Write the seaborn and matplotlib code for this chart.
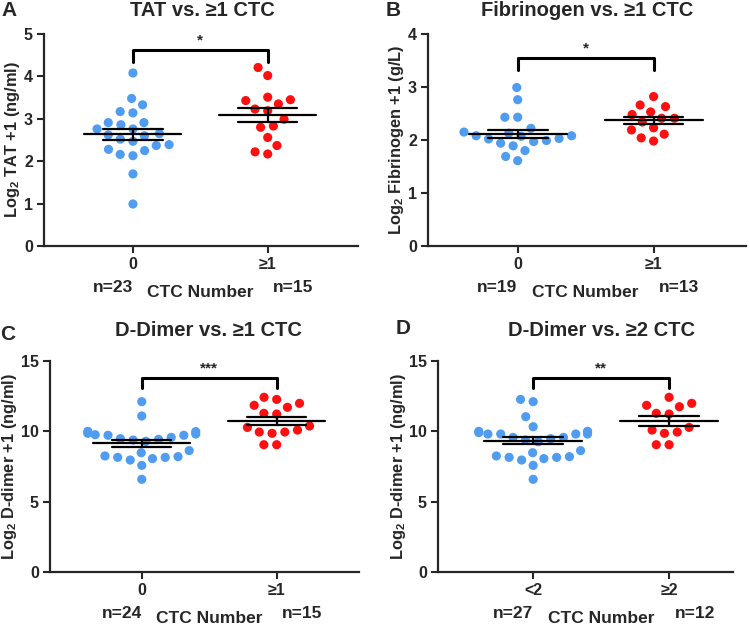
import numpy as np
import pandas as pd
import matplotlib
matplotlib.use("Agg")
import matplotlib.pyplot as plt
import seaborn as sns

# Values (log2 scale)
tat_0 = [4.08, 3.48, 3.33, 3.17, 3.14, 2.91, 2.91, 2.86, 2.76, 2.76, 2.62, 2.60,
         2.65, 2.52, 2.47, 2.37, 2.39, 2.25, 2.28, 2.13, 2.16, 1.70, 0.99]
tat_1 = [4.21, 4.02, 3.51, 3.43, 3.35, 3.45, 3.23, 3.19, 2.99, 2.80, 2.83, 2.56,
         2.37, 2.17, 2.22]
fib_0 = [2.99, 2.76, 2.43, 2.43, 2.22, 2.08, 2.15, 2.13, 2.08, 2.07, 2.03, 1.99,
         2.02, 1.97, 1.94, 1.89, 1.80, 1.69, 1.61]
fib_1 = [2.82, 2.63, 2.66, 2.48, 2.53, 2.41, 2.41, 2.34, 2.23, 2.19, 2.11, 2.04, 1.98]
dd_0 = [12.11, 11.09, 9.98, 10.00, 9.81, 9.76, 9.57, 9.48, 9.72, 9.72, 9.86, 9.29,
        9.38, 9.43, 8.48, 8.63, 8.20, 8.15, 7.96, 8.06, 8.15, 8.25, 7.58, 6.59]
dd_1 = [12.42, 12.27, 11.99, 11.71, 11.85, 11.23, 11.28, 10.38, 10.28, 10.09,
        9.86, 9.95, 9.95, 9.05, 9.05]
dd2_0 = [12.27, 12.11, 11.04, 10.33, 10.00, 9.95, 10.00, 9.81, 9.81, 9.91, 9.81,
         9.81, 9.57, 9.57, 9.38, 9.48, 9.26, 8.48, 8.20, 8.15, 8.63, 7.96, 8.06,
         8.15, 8.25, 7.58, 6.59]
dd2_1 = [12.42, 11.99, 11.75, 11.85, 11.23, 11.28, 10.28, 10.09, 9.86, 9.95,
         9.05, 9.05]

panels = [
    dict(letter="A", title="TAT vs. ≥1 CTC", cats=["0", "≥1"], vals=[tat_0, tat_1],
         ylabel=r"$\mathbf{Log_2}$ TAT +1 (ng/ml)", ylim=5, yticks=[0, 1, 2, 3, 4, 5],
         star="*", br=(4.35, 4.63, 4.85)),
    dict(letter="B", title="Fibrinogen vs. ≥1 CTC", cats=["0", "≥1"], vals=[fib_0, fib_1],
         ylabel=r"$\mathbf{Log_2}$ Fibrinogen +1 (g/L)", ylim=4, yticks=[0, 1, 2, 3, 4],
         star="*", br=(3.33, 3.55, 3.72)),
    dict(letter="C", title="D-Dimer vs. ≥1 CTC", cats=["0", "≥1"], vals=[dd_0, dd_1],
         ylabel=r"$\mathbf{Log_2}$ D-dimer +1 (ng/ml)", ylim=15, yticks=[0, 5, 10, 15],
         star="***", br=(13.05, 13.8, 14.5)),
    dict(letter="D", title="D-Dimer vs. ≥2 CTC", cats=["<2", "≥2"], vals=[dd2_0, dd2_1],
         ylabel=r"$\mathbf{Log_2}$ D-dimer +1 (ng/ml)", ylim=15, yticks=[0, 5, 10, 15],
         star="**", br=(13.05, 13.8, 14.5)),
]

blue = "#4f9cf0"
red = "#ff1010"

sns.set_style("ticks")
plt.rcParams["font.family"] = ["Liberation Sans", "DejaVu Sans"]
plt.rcParams["font.weight"] = "bold"
plt.rcParams["mathtext.fontset"] = "custom"
plt.rcParams["mathtext.rm"] = "Liberation Sans:bold"
plt.rcParams["mathtext.bf"] = "Liberation Sans:bold"

fig = plt.figure(figsize=(7.5, 6.26), dpi=100)
W, H = 750, 626
# axes boxes in pixels: left, right, top, bottom
boxes = [(44, 358, 34, 246), (428, 746, 34, 246), (50, 359, 361, 572), (438, 733, 361, 572)]
xlims = [(-0.66, 1.67), (-0.66, 1.68), (-0.68, 1.61), (-0.70, 1.47)]
title_pos = [(202, 11), (587, 11), (208, 331), (601, 331)]
letter_pos = [(9, 11), (393, 11), (8, 334), (403, 328)]

for p, box, xl, tp, lp in zip(panels, boxes, xlims, title_pos, letter_pos):
    l, r, t, b = box
    ax = fig.add_axes([l / W, 1 - b / H, (r - l) / W, (b - t) / H])
    df = pd.DataFrame({
        "group": [p["cats"][0]] * len(p["vals"][0]) + [p["cats"][1]] * len(p["vals"][1]),
        "value": p["vals"][0] + p["vals"][1],
    })
    # invisible edge widens the swarm spacing a bit, like Prism's layout
    sns.swarmplot(data=df, x="group", y="value", hue="group", order=p["cats"],
                  palette={p["cats"][0]: blue, p["cats"][1]: red}, size=6.6,
                  linewidth=2.2, edgecolor="none", legend=False, ax=ax, zorder=2)

    # mean and SEM
    for i, v in enumerate(p["vals"]):
        v = np.array(v)
        m = v.mean()
        se = v.std(ddof=1) / np.sqrt(len(v))
        ax.plot([i - 0.36, i + 0.36], [m, m], color="black", lw=1.6, zorder=3)
        ax.plot([i - 0.22, i + 0.22], [m + se, m + se], color="black", lw=1.6, zorder=3)
        ax.plot([i - 0.22, i + 0.22], [m - se, m - se], color="black", lw=1.6, zorder=3)
        ax.plot([i, i], [m - se, m + se], color="black", lw=1.6, zorder=3)

    # significance bracket
    y0, y1, ys = p["br"]
    ax.plot([0, 0, 1, 1], [y0, y1, y1, y0], color="black", lw=2.2, zorder=3)
    ax.text(0.5, ys, p["star"], ha="center", va="center", fontsize=11, fontweight="bold")

    ax.set_xlim(*xl)
    ax.set_ylim(0, p["ylim"])
    ax.set_yticks(p["yticks"])
    ax.set_xlabel("")
    ax.set_ylabel(p["ylabel"], fontsize=11.8, fontweight="bold", labelpad=1)
    ax.tick_params(axis="both", labelsize=11.5, width=1.5, length=5, pad=3)
    for lab in ax.get_xticklabels() + ax.get_yticklabels():
        lab.set_fontweight("bold")
    sns.despine(ax=ax)
    for s in ["left", "bottom"]:
        ax.spines[s].set_linewidth(1.6)

    # n labels and axis title under the ticks
    trans = ax.get_xaxis_transform()
    ax.text(-0.15, -0.195, f"n={len(p['vals'][0])}", transform=trans, ha="center",
            va="center", fontsize=12.5, fontweight="bold")
    ax.text(1.19, -0.195, f"n={len(p['vals'][1])}", transform=trans, ha="center",
            va="center", fontsize=12.5, fontweight="bold")
    ax.text(0.5, -0.22, "CTC Number", transform=trans, ha="center", va="center",
            fontsize=12.5, fontweight="bold")

    fig.text(tp[0] / W, 1 - tp[1] / H, p["title"], ha="center", va="center",
             fontsize=14.5, fontweight="bold")
    fig.text(lp[0] / W, 1 - lp[1] / H, p["letter"], ha="center", va="center",
             fontsize=15, fontweight="bold")

fig.savefig("out.png", dpi=100)
